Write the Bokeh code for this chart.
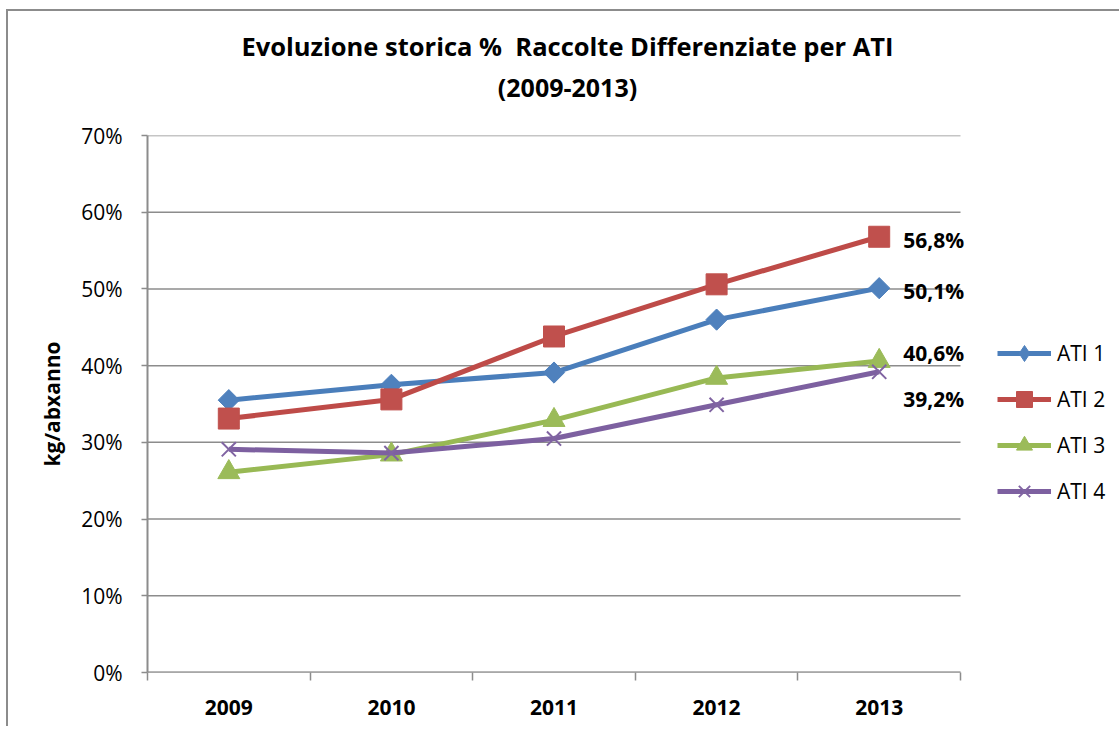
from bokeh.plotting import figure
from bokeh.models import (Range1d, FixedTicker, NumeralTickFormatter, Title, Legend,
                          LegendItem, ColumnDataSource)
from bokeh.core.properties import value
from bokeh.embed import file_html
from bokeh.resources import INLINE
import math

years = ["2009", "2010", "2011", "2012", "2013"]
ati1 = [0.355, 0.375, 0.391, 0.460, 0.501]
ati2 = [0.331, 0.356, 0.438, 0.506, 0.568]
ati3 = [0.261, 0.284, 0.329, 0.384, 0.406]
ati4 = [0.291, 0.286, 0.305, 0.349, 0.392]
series_names = ["ATI 1", "ATI 2", "ATI 3", "ATI 4"]
y_ticks = [0.0, 0.1, 0.2, 0.3, 0.4, 0.5, 0.6, 0.7]
title_line1 = "Evoluzione storica %\u00a0 Raccolte Differenziate per ATI"
title_line2 = "(2009-2013)"

FONT = "Open Sans"
GRAY = "#8c8c8c"

n = len(years)
cat_px = 813 / n          # pixels per category
extra_px = 27             # room right of the last category for the data labels

p = figure(frame_width=813 + extra_px, frame_height=537, output_backend="svg",
           toolbar_location=None,
           x_range=Range1d(-0.5, n - 0.5 + extra_px / cat_px), y_range=Range1d(0, 0.7),
           min_border_left=139, min_border_top=124, min_border_right=123,
           min_border_bottom=54)
p.outline_line_color = None
p.background_fill_color = "white"
p.border_fill_color = "white"
p.styles = {"border-left": "2px solid #8c8c8c", "border-top": "2px solid #8c8c8c",
            "margin-left": "6px", "margin-top": "9px"}

# two title lines, the one nearest the plot added first
p.add_layout(Title(text=title_line2, align="center", text_font=FONT, text_font_size="25px",
                   text_font_style="bold", text_color="black", standoff=64), "above")
p.add_layout(Title(text=title_line1, align="center", text_font=FONT, text_font_size="25.5px",
                   text_font_style="bold", text_color="black", standoff=-54), "above")

# x axis
xs = list(range(n))
p.xaxis.ticker = FixedTicker(ticks=xs, minor_ticks=[i - 0.5 for i in range(n + 1)])
p.xaxis.major_label_overrides = {i: y for i, y in enumerate(years)}
p.xaxis.major_tick_out = 0
p.xaxis.major_tick_in = 0
p.xaxis.minor_tick_out = 8
p.xaxis.minor_tick_in = 0
p.xaxis.minor_tick_line_color = GRAY
p.xaxis.minor_tick_line_width = 1.5
p.xaxis.axis_line_color = None
p.xaxis.major_label_text_font = FONT
p.xaxis.major_label_text_font_size = "21px"
p.xaxis.major_label_text_font_style = "bold"
p.xaxis.major_label_text_color = "black"
p.xaxis.major_label_standoff = 19

# y axis
p.yaxis.ticker = FixedTicker(ticks=y_ticks, minor_ticks=[])
p.yaxis.formatter = NumeralTickFormatter(format="0%")
p.yaxis.major_tick_out = 6
p.yaxis.major_tick_in = 0
p.yaxis.minor_tick_line_color = None
p.yaxis.major_tick_line_color = GRAY
p.yaxis.major_tick_line_width = 1.5
p.yaxis.axis_line_color = GRAY
p.yaxis.axis_line_width = 2
p.yaxis.major_label_text_font = FONT
p.yaxis.major_label_text_font_size = "21px"
p.yaxis.major_label_text_color = "black"
p.yaxis.major_label_standoff = 19
p.yaxis.axis_label = "kg/abxanno"
p.yaxis.axis_label_text_font = FONT
p.yaxis.axis_label_text_font_size = "21px"
p.yaxis.axis_label_text_font_style = "bold"
p.yaxis.axis_label_text_color = "black"
p.yaxis.axis_label_standoff = 12

# horizontal gridlines spanning only the category area (0% line doubles as x axis line)
p.xgrid.grid_line_color = None
p.ygrid.grid_line_color = None
p.segment(x0=[-0.5] * len(y_ticks), x1=[n - 0.5] * len(y_ticks), y0=y_ticks, y1=y_ticks,
          line_color=GRAY, line_width=1.5)
p.segment(x0=[-0.5], x1=[n - 0.5], y0=[0], y1=[0], line_color=GRAY, line_width=2)

line_colors = ["#4A7EBB", "#BE4B48", "#98B954", "#7D60A0"]
fill_colors = ["#4F81BD", "#C0504D", "#9BBB59", "#8064A2"]
markers = [("square", 15, math.pi / 4), ("square", 21, 0), ("triangle", 22, 0), ("x", 20, 0)]
legend_markers = ["diamond", "square", "triangle", "x"]
data = [ati1, ati2, ati3, ati4]

items = []
for name, vals, lc, fc, (mk, sz, ang), lmk in zip(series_names, data, line_colors,
                                                  fill_colors, markers, legend_markers):
    src = ColumnDataSource(dict(x=xs, y=vals))
    lr = p.line("x", "y", source=src, line_color=lc, line_width=5, line_join="round")
    if lmk != mk:
        # diamond drawn under the rotated square: hidden on the plot, used by the legend
        leg_r = p.scatter("x", "y", source=src, marker=lmk, size=14,
                          fill_color=fc, line_color=fc)
    if mk == "x":
        sr = p.scatter("x", "y", source=src, marker=mk, size=sz, line_color=fc, line_width=2)
    else:
        sr = p.scatter("x", "y", source=src, marker=mk, size=sz, angle=ang,
                       fill_color=fc, line_color=fc)
    if lmk == mk:
        leg_r = sr
    items.append(LegendItem(label=name, renderers=[lr, leg_r]))

# data labels for the last year
label_dy = [3, 3, -8, 27]
for vals, dy in zip(data, label_dy):
    v = vals[-1]
    txt = f"{v * 100:.1f}%".replace(".", ",")
    p.text(x=[xs[-1]], y=[v], text=[txt], x_offset=24, y_offset=dy,
           text_font=value(FONT), text_font_size="21px", text_font_style="bold",
           text_color="black", text_baseline="middle", text_align="left")

legend = Legend(items=items, location=(10, 161), orientation="vertical",
                border_line_color=None, background_fill_alpha=0,
                glyph_width=54, glyph_height=40, spacing=6, padding=0, margin=0,
                label_standoff=6, label_text_font=FONT, label_text_font_size="21px",
                label_text_color="black")
p.add_layout(legend, "right")

open("out.html", "w").write(file_html(p, INLINE))
